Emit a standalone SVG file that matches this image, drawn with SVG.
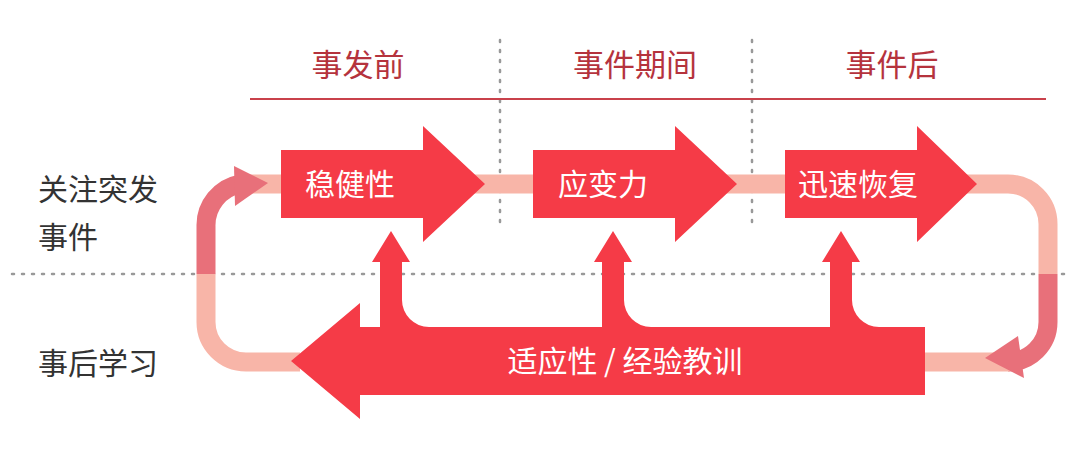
<svg xmlns="http://www.w3.org/2000/svg" width="1080" height="459" viewBox="0 0 1080 459">
<style>
.h{font-family:"Noto Sans CJK SC","Noto Sans",sans-serif;font-size:31px;fill:#b5333d;text-anchor:middle}
.l{font-family:"Noto Sans CJK SC","Noto Sans",sans-serif;font-size:30px;fill:#333;}
.w{font-family:"Noto Sans CJK SC","Noto Sans",sans-serif;font-size:30px;fill:#fff;text-anchor:middle}
.r{fill:#f53b47}
.dot{stroke:#999;stroke-width:2.5;stroke-dasharray:2 8;stroke-linecap:round;fill:none}
</style>
<rect width="1080" height="459" fill="#fff"/>
<g id="guides">
<line class="dot" x1="12" y1="274" x2="1070" y2="274"/>
<line class="dot" x1="500" y1="40" x2="500" y2="230"/>
<line class="dot" x1="752" y1="40" x2="752" y2="230"/>
<line x1="250" y1="99" x2="1046" y2="99" stroke="#c9414b" stroke-width="2"/>
</g>
<g id="headers">
<text class="h" x="358" y="76">事发前</text>
<text class="h" x="635" y="76">事件期间</text>
<text class="h" x="892" y="76">事件后</text>
</g>
<g id="sidelabels">
<text class="l" x="38" y="200">关注突发</text>
<text class="l" x="38" y="248">事件</text>
<text class="l" x="38" y="374">事后学习</text>
</g>
<g id="connectors" fill="none">
<line x1="250" y1="184" x2="960" y2="184" stroke="#f8b5a8" stroke-width="19"/>
<path d="M960 184 H1008 A40 40 0 0 1 1048 224 V274" stroke="#f8b5a8" stroke-width="19"/>
<path d="M1048 274 V322 A40 40 0 0 1 1008 362" stroke="#e8707a" stroke-width="19"/>
<line x1="1010" y1="362" x2="920" y2="362" stroke="#f8b5a8" stroke-width="19"/>
<polygon points="985,358 1018,336 1024,378" fill="#e8707a"/>
<path d="M300 362 H246 A40 40 0 0 1 206 322 V274" stroke="#f8b5a8" stroke-width="19"/>
<path d="M206 274 V226 A42 42 0 0 1 240 184" stroke="#e8707a" stroke-width="19"/>
<polygon points="268,183 234,166 235,206" fill="#e8707a"/>
</g>
<g id="robust"><polygon class="r" points="281,150 423,150 423,126 485,184 423,242 423,218 281,218"/><text class="w" x="350" y="195">稳健性</text></g>
<g id="respond"><polygon class="r" points="533,150 675,150 675,126 737,184 675,242 675,218 533,218"/><text class="w" x="603" y="195">应变力</text></g>
<g id="recover"><polygon class="r" points="785,150 917,150 917,126 977,184 917,242 917,218 785,218"/><text class="w" x="858" y="195">迅速恢复</text></g>
<g id="adapt">
<polygon class="r" points="925,327 925,395 360,395 360,419 291,361 360,303 360,327"/>
<path class="r" d="M380 262 H372 L391 231 L410 262 H402 V300 A27 27 0 0 0 429 327 H380 Z"/>
<path class="r" d="M602 262 H594 L613 231 L632 262 H624 V300 A27 27 0 0 0 651 327 H602 Z"/>
<path class="r" d="M830 262 H822 L841 231 L860 262 H852 V300 A27 27 0 0 0 879 327 H830 Z"/>
<text class="w" x="625" y="372">适应性 / 经验教训</text>
</g>
</svg>
